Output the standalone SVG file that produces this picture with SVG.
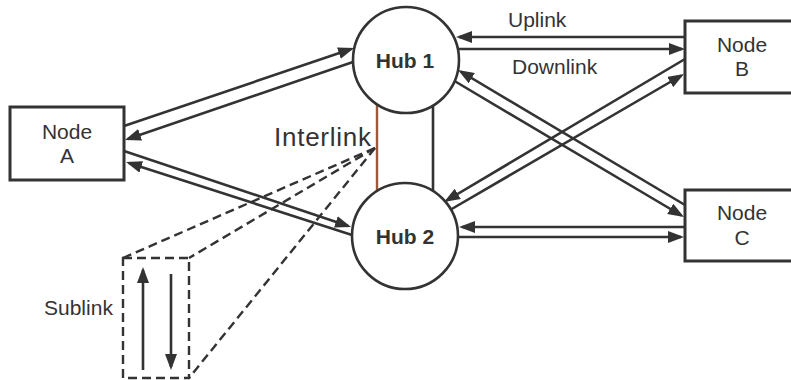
<svg xmlns="http://www.w3.org/2000/svg" width="791" height="380" viewBox="0 0 791 380">
<style>
text{font-family:"Liberation Sans",Arial,sans-serif;fill:#333;font-size:21px}
.hub text{font-weight:bold}
.box{fill:#fff;stroke:#333;stroke-width:3}
.circ{fill:#fff;stroke:#333;stroke-width:2.6}
.ln{stroke:#333;stroke-width:2.6;fill:none;marker-end:url(#ah)}
.dash{stroke:#333;stroke-width:2.4;fill:none;stroke-dasharray:9 5}
</style>
<defs>
<marker id="ah" markerUnits="userSpaceOnUse" markerWidth="16" markerHeight="12" refX="13" refY="6" orient="auto">
<path d="M0,0 L16,6 L0,12 z" fill="#333"/>
</marker>
</defs>
<rect width="791" height="380" fill="#fff"/>
<g id="connectors">
<line x1="377" y1="104" x2="377" y2="191" stroke="#9c5a3c" stroke-width="2.4"/>
<line x1="433" y1="105" x2="433" y2="191" stroke="#333" stroke-width="2.6"/>
<line class="ln" x1="124" y1="126" x2="351.2" y2="49"/>
<line class="ln" x1="353" y1="62" x2="127.8" y2="139"/>
<line class="ln" x1="124" y1="151" x2="348.2" y2="226"/>
<line class="ln" x1="352" y1="235" x2="128.9" y2="162.9"/>
<line class="ln" x1="685" y1="37" x2="459" y2="37"/>
<line class="ln" x1="458" y1="49" x2="682" y2="49"/>
<line class="ln" x1="685" y1="205" x2="460.6" y2="71.5"/>
<line class="ln" x1="454.5" y1="81" x2="681.4" y2="215.5"/>
<line class="ln" x1="685" y1="59" x2="446.6" y2="200.5"/>
<line class="ln" x1="450" y1="210" x2="681.4" y2="75.5"/>
<line class="ln" x1="685" y1="227" x2="462" y2="227"/>
<line class="ln" x1="458" y1="237" x2="681" y2="237"/>
<line class="ln" x1="143" y1="370" x2="143" y2="270"/>
<line class="ln" x1="171" y1="274" x2="171" y2="367"/>
<rect class="dash" x="123" y="258" width="66" height="120"/>
<line class="dash" x1="375" y1="148" x2="123" y2="258"/>
<line class="dash" x1="375" y1="148" x2="189" y2="258"/>
<line class="dash" x1="375" y1="148" x2="189" y2="378"/>
</g>
<g id="nodeA"><rect class="box" x="10" y="107" width="114" height="73"/><text x="67" y="139" text-anchor="middle">Node</text><text x="67" y="163" text-anchor="middle">A</text></g>
<g id="nodeB"><rect class="box" x="685" y="21" width="114" height="72"/><text x="742" y="52" text-anchor="middle">Node</text><text x="742" y="76" text-anchor="middle">B</text></g>
<g id="nodeC"><rect class="box" x="685" y="190" width="114" height="71"/><text x="742" y="220" text-anchor="middle">Node</text><text x="742" y="245" text-anchor="middle">C</text></g>
<g id="hub1" class="hub"><circle class="circ" cx="406" cy="60" r="53"/><text x="405" y="68" text-anchor="middle">Hub 1</text></g>
<g id="hub2" class="hub"><circle class="circ" cx="405" cy="236" r="53"/><text x="405" y="244" text-anchor="middle">Hub 2</text></g>
<g id="labels">
<text x="274" y="146" textLength="97" lengthAdjust="spacing" style="font-size:26px">Interlink</text>
<text x="508" y="27">Uplink</text>
<text x="512" y="74">Downlink</text>
<text x="44" y="315">Sublink</text>
</g>
</svg>
